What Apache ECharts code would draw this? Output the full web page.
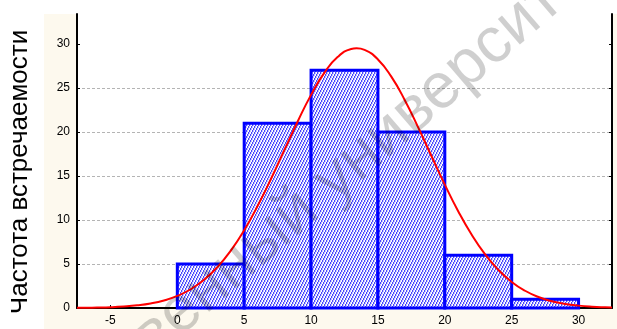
<!DOCTYPE html>
<html>
<head>
<meta charset="utf-8">
<script src="https://cdn.jsdelivr.net/npm/echarts@6/dist/echarts.min.js"></script>
<style>
  html, body { margin: 0; padding: 0; background: #fff; }
  #chart { width: 617px; height: 329px; }
</style>
</head>
<body>
<div id="chart"></div>
<script>
// Histogram bins (lower edge, upper edge) and frequencies
const binStart = [0, 5, 10, 15, 20, 25];
const binEnd = [5, 10, 15, 20, 25, 30];
const counts = [5, 21, 27, 20, 6, 1];

// Fitted normal curve, sampled along the x axis
const curveX = [-7.5, -7, -6, -5, -4, -3, -2, -1, 0, 1, 2, 3, 4, 5, 6, 7, 8, 9, 10, 11, 12, 13, 13.4, 14, 15, 16, 17, 18, 19, 20, 21, 22, 23, 24, 25, 26, 27, 28, 29, 30, 31, 32, 32.5];
const curveY = [0.02, 0.02, 0.05, 0.09, 0.17, 0.30, 0.51, 0.85, 1.37, 2.13, 3.20, 4.65, 6.52, 8.84, 11.58, 14.65, 17.93, 21.19, 24.21, 26.74, 28.53, 29.42, 29.5, 29.32, 28.24, 26.28, 23.64, 20.55, 17.27, 14.02, 11.00, 8.34, 6.11, 4.33, 2.96, 1.96, 1.25, 0.77, 0.46, 0.27, 0.15, 0.08, 0.06];

// Tick labels
const xTicks = [-5, 0, 5, 10, 15, 20, 25, 30];
const yTicks = [0, 5, 10, 15, 20, 25, 30];

const yTitle = 'Частота встречаемости';
const watermark = 'государственный университет';

// Diagonal hatch tile for the bars
function hatchTile() {
  const w = 3, h = 6;
  const c = document.createElement('canvas');
  c.width = w; c.height = h;
  const ctx = c.getContext('2d');
  ctx.fillStyle = '#ffffff';
  ctx.fillRect(0, 0, w, h);
  for (let y = 0; y < h; y++) {
    const x = Math.floor((h - 1 - y) / 2) % w;
    ctx.fillStyle = '#4646ff';
    ctx.fillRect(x, y, 1, 1);
    ctx.fillStyle = '#c4c4ff';
    ctx.fillRect((x + 1) % w, y, 1, 1);
  }
  return c;
}
const hatch = { image: hatchTile(), repeat: 'repeat' };

const bars = binStart.map((s, i) => [s, binEnd[i], counts[i]]);
const curve = curveX.map((x, i) => [x, curveY[i]]);

const chart = echarts.init(document.getElementById('chart'), null, { renderer: 'canvas' });

const labelFont = { color: '#000', fontSize: 12, fontFamily: 'Liberation Sans, Arial, sans-serif' };

chart.setOption({
  animation: false,
  backgroundColor: '#ffffff',
  grid: {
    left: 77, right: 5, top: 14, bottom: 21,
    show: true, backgroundColor: '#ffffff', borderWidth: 0
  },
  graphic: [
    { type: 'rect', z: -100, silent: true, shape: { x: 44, y: 14, width: 573, height: 315 }, style: { fill: '#fdf9ee' } },
    {
      type: 'text', z: 100, silent: true, x: 20, y: 172, rotation: Math.PI / 2,
      style: { text: yTitle, fill: '#000', font: '26px "Liberation Sans", Arial, sans-serif', align: 'center', verticalAlign: 'middle' }
    },
    { type: 'rect', z: 101, silent: true, shape: { x: 0, y: 0, width: 11, height: 329 }, style: { fill: '#ffffff' } },
    {
      type: 'text', z: 200, silent: true, x: 262, y: 243, rotation: 0.71,
      style: { text: watermark, fill: 'rgba(0,0,0,0.19)', font: '64px "Liberation Sans", Arial, sans-serif', align: 'center', verticalAlign: 'middle' }
    }
  ],
  xAxis: {
    type: 'value', min: -7.5, max: 32.5,
    axisLine: { show: true, onZero: false, lineStyle: { color: '#000', width: 2 } },
    axisTick: { show: true, inside: true, length: 3, customValues: xTicks, lineStyle: { color: '#000' } },
    axisLabel: Object.assign({ customValues: xTicks, margin: 7 }, labelFont),
    splitLine: { show: false }
  },
  yAxis: [
    {
      type: 'value', min: 0, max: 33.4, interval: 5, position: 'left',
      axisLine: { show: true, onZero: false, lineStyle: { color: '#000', width: 2 } },
      axisTick: { show: true, inside: true, length: 3, customValues: yTicks, lineStyle: { color: '#000' } },
      axisLabel: Object.assign({ customValues: yTicks, margin: 7 }, labelFont),
      splitLine: { show: true, showMinLine: false, showMaxLine: false, lineStyle: { color: '#b4b4b4', type: [3, 2], width: 1 } }
    },
    {
      type: 'value', min: 0, max: 33.4, interval: 5, position: 'right',
      axisLine: { show: true, onZero: false, lineStyle: { color: '#000', width: 2 } },
      axisTick: { show: true, inside: true, length: 3, customValues: yTicks, lineStyle: { color: '#000' } },
      axisLabel: { show: false },
      splitLine: { show: false }
    }
  ],
  series: [
    {
      type: 'custom', xAxisIndex: 0, yAxisIndex: 0, z: 2,
      data: bars,
      renderItem: function (params, api) {
        const p0 = api.coord([api.value(0), 0]);
        const p1 = api.coord([api.value(1), api.value(2)]);
        return {
          type: 'rect',
          shape: { x: p0[0], y: p1[1], width: p1[0] - p0[0], height: p0[1] - p1[1] },
          style: { fill: hatch, stroke: '#0000ff', lineWidth: 3 }
        };
      }
    },
    {
      type: 'line', xAxisIndex: 0, yAxisIndex: 0, z: 3,
      data: curve, smooth: true, showSymbol: false,
      lineStyle: { color: '#ff0000', width: 2 }
    }
  ]
});
</script>
</body>
</html>
